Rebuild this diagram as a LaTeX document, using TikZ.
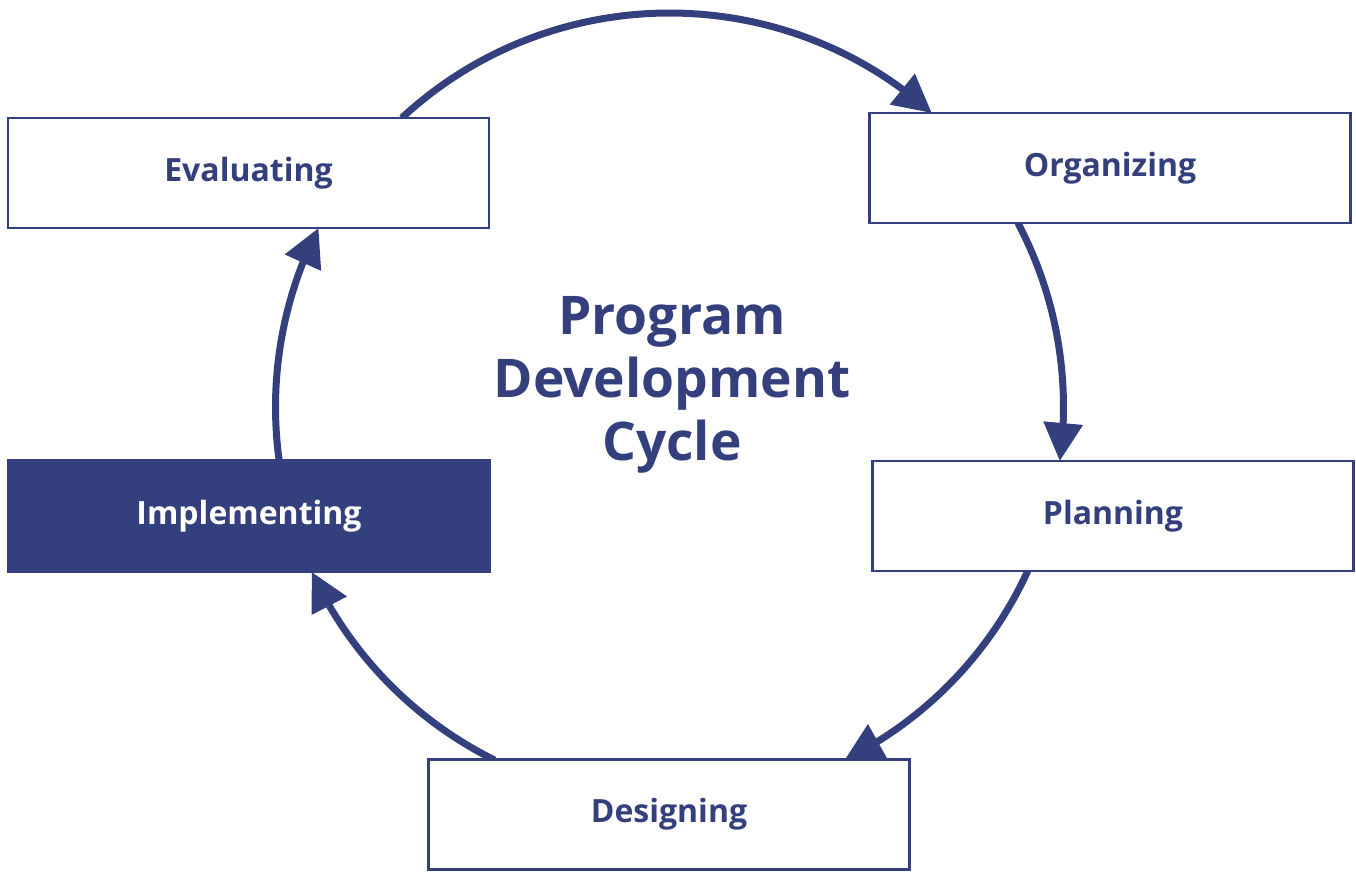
\documentclass[tikz,border=0pt]{standalone}
\usepackage{fontspec}
\setmainfont{Open Sans}
\usetikzlibrary{arrows.meta,bending}
\definecolor{navy}{HTML}{343F7E}
\begin{document}
\begin{tikzpicture}[x=0.75pt,y=0.75pt,
  box/.style={draw=navy, line width=1.9pt, fill=white, minimum width=360.75pt, minimum height=82.5pt, inner sep=0pt, font=\bfseries\fontsize{24}{29}\selectfont, text=navy},
  darkbox/.style={box, fill=navy, text=white},
  cyc/.style={draw=navy, line width=5.25pt, -{Triangle[length=28.5pt,width=28.5pt]}},
]
\useasboundingbox (0,0) rectangle (1356,871);
\coordinate (c) at (669.5,464);
\path (c) ++(132.82:295.5pt) coordinate (s1);
\path (c) ++(27.84:295.5pt) coordinate (s2);
\path (c) ++(-24.6:295.5pt) coordinate (s3);
\path (c) ++(-116.37:295.5pt) coordinate (s4);
\path (c) ++(187.73:295.5pt) coordinate (s5);
\draw[cyc] (s1) arc[start angle=132.82, end angle=48.26, radius=295.5pt];
\draw[cyc] (s2) arc[start angle=27.84, end angle=-7.88, radius=295.5pt];
\draw[cyc] (s3) arc[start angle=-24.6, end angle=-63.63, radius=295.5pt];
\draw[cyc] (s4) arc[start angle=-116.37, end angle=-155.24, radius=295.5pt];
\draw[cyc] (s5) arc[start angle=187.73, end angle=152.98, radius=295.5pt];
\node[box] (eval) at (248.5,698) {Evaluating};
\node[box] (org) at (1110,703) {Organizing};
\node[box] (plan) at (1113,355) {Planning};
\node[darkbox, minimum width=361.5pt, minimum height=84pt] (impl) at (249,355) {Implementing};
\node[box] (des) at (669,56.5) {Designing};
\node[text=navy, font=\bfseries\fontsize{40}{47.5}\selectfont, align=center] (title) at (672,486) {Program\\Development\\Cycle};
\end{tikzpicture}
\end{document}
